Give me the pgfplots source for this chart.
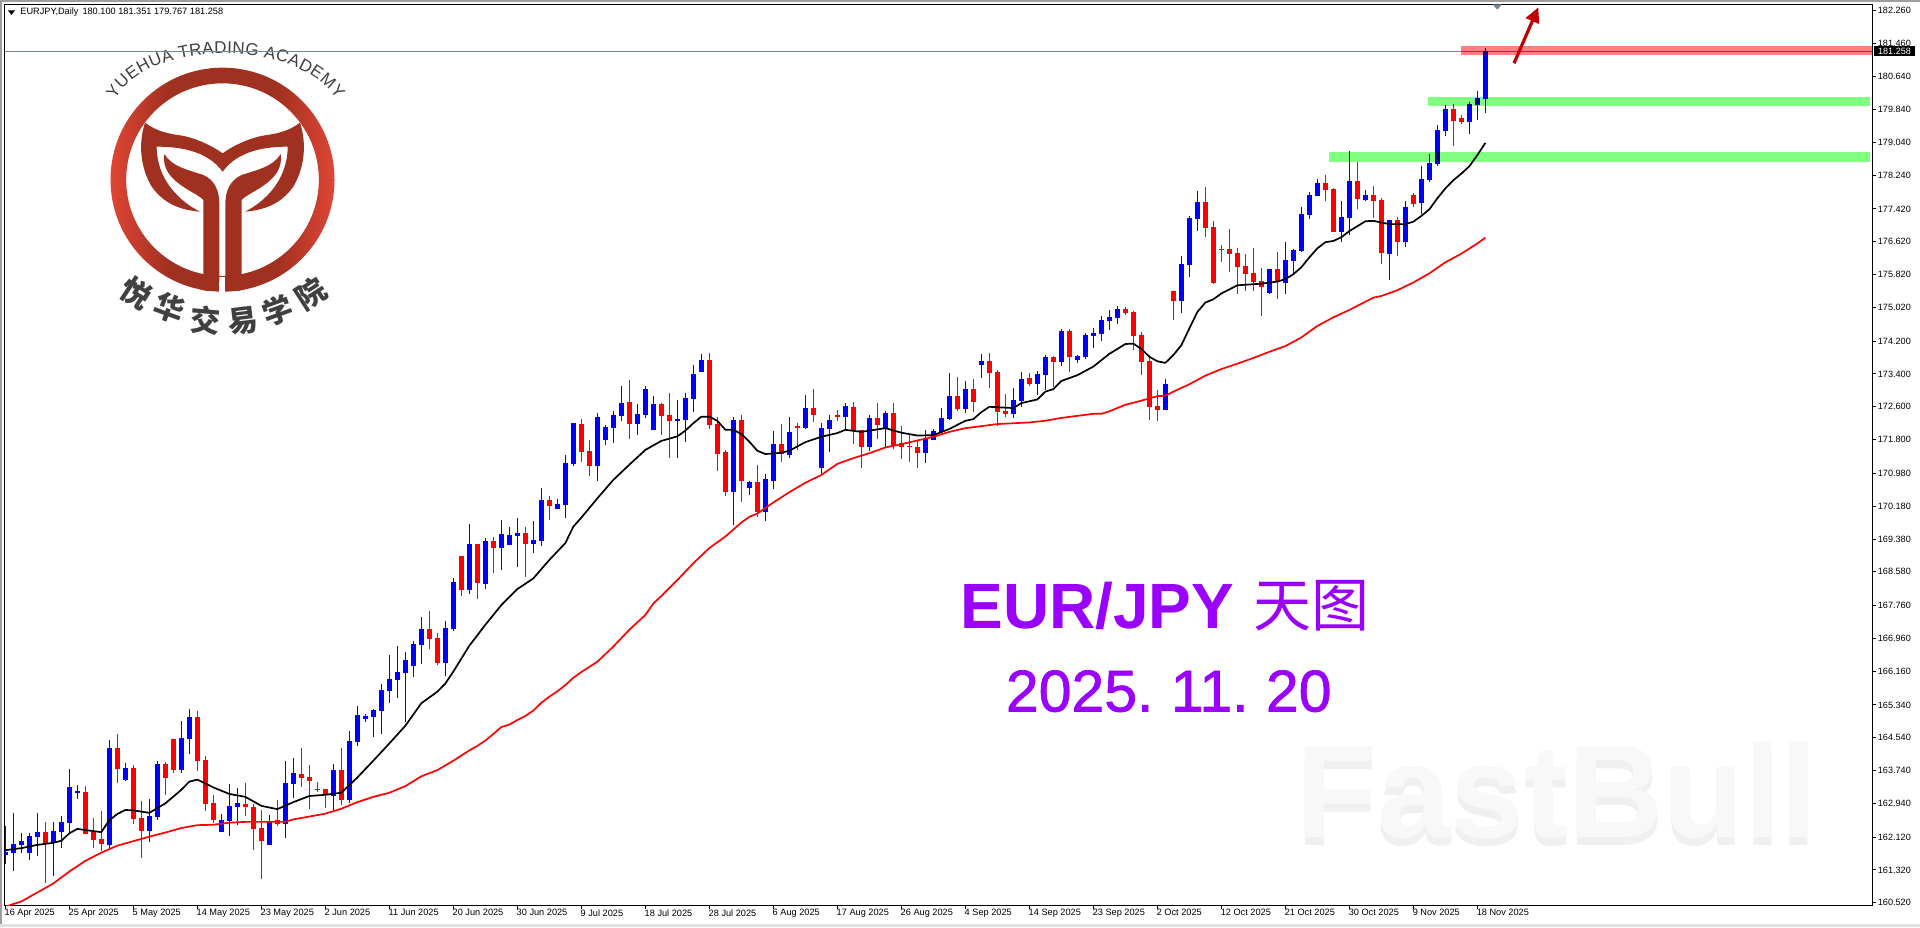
\documentclass[border=0pt]{standalone}
\usepackage{fontspec}
\usepackage{pgfplots}
\usepackage{pgfplotstable}
\pgfplotsset{compat=1.18}
\usetikzlibrary{arrows.meta,decorations.text}
\setmainfont{Liberation Sans}
\newfontfamily\cjk{Noto Sans CJK SC}
\newfontfamily\semib{Liberation Sans}[FakeBold=1.2]
\definecolor{barblue}{HTML}{0000FF}
\definecolor{barred}{HTML}{FF0000}
\definecolor{slate}{HTML}{778899}
\definecolor{titlep}{HTML}{9900FF}
\definecolor{logod}{HTML}{A03020}
\definecolor{logoe}{HTML}{E04535}
\definecolor{logot}{HTML}{404040}
\definecolor{wmD}{HTML}{F0F0F0}
\definecolor{wmE}{HTML}{F8F8F8}
\definecolor{zoneg}{HTML}{80FF80}
\definecolor{zoner}{HTML}{FF8080}
\pgfdeclarehorizontalshading{logoshade}{100bp}{color(0bp)=(logoe); color(25bp)=(logoe); color(38bp)=(logod); color(62bp)=(logod); color(75bp)=(logoe); color(100bp)=(logoe)}
\pgfplotstableread{
i o h l c
0 161.68 162.39 161.46 161.76
1 161.74 162.71 161.30 161.95
2 161.93 162.23 161.74 162.02
3 161.74 162.23 161.56 162.15
4 162.12 162.71 161.66 162.24
6 161.98 162.49 161.17 162.27
7 162.24 162.63 161.85 162.49
8 162.47 163.78 162.20 163.34
9 163.19 163.39 163.05 163.24
13 161.93 164.48 161.83 164.29
15 163.51 163.92 163.49 163.80
18 162.27 163.05 162.00 162.63
19 162.61 163.97 162.54 163.90
22 163.75 164.95 163.68 164.53
23 164.51 165.24 164.14 165.04
27 162.24 162.68 162.24 162.53
28 162.50 163.41 162.15 162.88
29 162.85 163.31 162.41 162.95
33 161.93 162.66 161.93 162.49
35 162.44 163.97 162.10 163.44
36 163.41 164.05 163.07 163.68
41 163.12 163.90 162.78 163.75
43 163.02 164.70 162.95 164.46
44 164.44 165.31 164.34 165.09
45 165.00 165.12 164.92 165.07
46 165.04 165.24 164.56 165.21
47 165.19 165.85 164.63 165.70
48 165.68 166.55 165.39 165.97
49 165.95 166.77 165.51 166.14
50 166.12 166.63 164.92 166.43
51 166.29 166.90 166.02 166.82
52 166.80 167.48 166.34 167.19
55 166.36 167.39 166.05 167.21
56 167.19 168.43 167.14 168.34
58 168.14 169.75 168.04 169.26
60 168.29 169.41 168.16 169.33
62 169.16 169.85 168.63 169.50
63 169.24 169.67 169.24 169.48
64 169.46 169.89 168.70 169.53
66 169.26 169.82 169.04 169.36
67 169.33 170.62 169.21 170.33
69 170.11 170.36 170.11 170.24
70 170.21 171.43 169.89 171.23
71 171.21 172.21 171.16 172.21
74 171.16 172.45 170.80 172.35
75 171.79 172.16 171.67 172.11
76 172.09 172.50 171.72 172.40
77 172.38 173.11 172.26 172.70
79 172.18 172.67 171.92 172.43
80 172.40 173.11 172.33 173.04
81 172.04 172.87 172.04 172.67
84 172.26 172.77 171.36 172.31
85 172.28 172.94 171.75 172.82
86 172.79 173.62 172.48 173.40
87 173.45 173.89 173.45 173.74
91 170.53 172.35 169.72 172.28
93 170.62 170.79 170.45 170.77
95 170.04 170.97 169.82 170.84
96 170.79 172.01 170.60 171.70
98 171.43 172.35 171.35 171.99
100 172.08 172.89 172.06 172.57
102 171.11 172.21 170.96 172.08
103 172.06 172.40 171.50 172.28
105 172.36 172.69 172.04 172.62
108 171.62 172.40 171.52 172.33
110 172.08 172.50 171.60 172.45
115 171.48 172.04 171.23 171.84
116 171.79 172.06 171.79 172.01
117 171.99 172.57 171.94 172.33
118 172.30 173.42 172.28 172.86
120 172.55 173.23 172.45 173.04
122 173.62 173.89 173.30 173.72
126 172.43 173.06 172.33 172.77
127 172.74 173.45 172.60 173.28
129 173.16 173.47 172.89 173.40
130 173.38 173.86 173.01 173.81
132 173.69 174.50 173.60 174.45
134 173.74 173.86 173.67 173.84
135 173.81 174.40 173.77 174.35
136 174.33 174.52 174.03 174.40
137 174.37 174.81 174.20 174.72
138 174.69 174.96 174.47 174.79
139 174.76 175.06 174.62 174.98
145 172.52 173.28 172.52 173.16
147 175.17 176.27 174.88 176.08
148 176.05 177.25 175.76 177.20
149 177.17 177.85 176.88 177.59
158 175.37 175.95 175.35 175.95
160 175.61 176.61 175.35 176.17
161 176.15 176.44 175.81 176.42
162 176.39 177.46 176.37 177.29
163 177.27 177.83 177.17 177.76
164 177.73 178.15 177.73 178.05
167 176.86 177.61 176.61 177.22
168 177.20 178.83 176.78 178.10
170 177.63 177.88 177.61 177.76
173 176.32 177.15 175.69 177.15
175 176.62 177.61 176.49 177.47
177 177.56 178.47 177.30 178.15
178 178.13 178.76 178.08 178.54
179 178.52 179.46 178.47 179.34
180 179.32 179.95 179.20 179.85
183 179.54 180.03 179.25 179.98
184 179.95 180.29 179.59 180.12
185 180.100 181.351 179.767 181.258
}\upbars
\pgfplotstableread{
i o h l c
5 162.24 162.49 161.01 161.98
10 163.22 163.36 162.20 162.20
11 162.24 162.59 161.86 162.05
12 162.07 162.75 161.77 161.95
14 164.29 164.63 163.44 163.78
16 163.80 163.87 162.44 162.56
17 162.58 163.00 161.61 162.27
20 163.90 163.95 163.14 163.56
21 164.51 164.51 163.68 163.75
24 165.04 165.19 163.73 163.97
25 163.99 164.09 162.75 162.93
26 162.95 163.14 162.46 162.53
30 162.93 163.44 162.63 162.85
31 162.85 162.93 161.80 162.32
32 162.34 162.78 161.10 162.02
34 162.53 163.02 162.39 162.44
37 163.66 164.29 163.34 163.56
38 163.58 163.87 162.80 163.49
39 163.29 163.46 163.22 163.26
40 163.29 163.29 162.83 163.17
42 163.75 164.29 162.90 163.02
53 167.19 167.63 166.70 166.95
54 166.97 167.09 166.31 166.36
57 168.97 168.97 167.99 168.14
59 169.26 169.26 167.92 168.31
61 169.33 169.43 168.55 169.16
65 169.53 169.67 168.46 169.26
68 170.33 170.43 169.85 170.19
72 172.18 172.31 171.26 171.50
73 171.53 171.79 170.92 171.16
78 172.72 173.26 171.82 172.18
82 172.67 172.70 171.92 172.38
83 172.40 172.94 171.36 172.26
88 173.74 173.91 172.06 172.16
89 172.18 172.35 171.04 171.45
90 171.50 171.55 170.43 170.53
92 172.28 172.40 170.28 170.80
94 170.77 171.18 169.92 170.04
97 171.70 172.18 171.26 171.45
99 172.13 172.20 171.55 172.08
101 172.57 173.04 172.23 172.40
104 172.39 172.52 172.26 172.36
106 172.60 172.72 171.70 172.04
107 172.04 172.04 171.11 171.62
109 172.33 172.69 171.82 172.16
111 172.45 172.69 171.57 171.65
112 171.72 172.13 171.33 171.62
113 171.65 171.94 171.26 171.61
114 171.62 171.77 171.11 171.48
119 172.86 173.33 172.50 172.55
121 173.04 173.28 172.47 172.72
123 173.72 173.91 173.06 173.42
124 173.45 173.50 172.13 172.47
125 172.50 172.91 172.35 172.43
128 173.30 173.42 173.11 173.16
131 173.81 173.84 173.08 173.69
133 174.45 174.50 173.45 173.81
140 174.98 175.03 174.84 174.89
141 174.91 174.93 173.98 174.33
142 174.35 174.42 173.38 173.69
143 173.72 173.86 172.28 172.60
144 172.62 173.01 172.26 172.52
146 175.42 175.42 174.71 175.17
150 177.59 177.95 176.73 176.95
151 176.98 177.12 175.59 175.61
152 176.44 176.54 176.12 176.42
153 176.44 176.93 175.88 176.32
154 176.34 176.47 175.35 176.00
155 176.03 176.32 175.42 175.83
156 175.86 176.47 175.42 175.64
157 175.66 175.98 174.81 175.52
159 175.95 176.37 175.22 175.66
165 178.05 178.24 177.61 177.88
166 177.90 177.93 176.86 176.86
169 178.10 178.56 177.42 177.66
171 177.76 177.98 177.20 177.61
172 177.63 177.68 176.08 176.34
174 177.15 177.22 176.27 176.61
176 177.76 177.81 177.47 177.54
181 179.85 179.98 178.95 179.56
182 179.64 179.71 179.49 179.54
}\downbars
\pgfplotstableread{
i v
0 161.80
2 161.85
4 161.93
6 161.98
7 162.03
8 162.21
9 162.32
10 162.29
12 162.24
13 162.53
14 162.68
15 162.78
16 162.77
18 162.71
20 162.94
22 163.27
23 163.47
24 163.52
26 163.33
28 163.17
30 163.10
32 162.88
34 162.80
36 162.97
38 163.12
40 163.15
42 163.20
44 163.57
46 163.98
48 164.40
50 164.83
52 165.38
54 165.66
55 165.86
56 166.15
58 166.78
60 167.29
62 167.77
64 168.16
66 168.42
68 168.87
70 169.28
71 169.68
72 169.90
74 170.37
76 170.82
78 171.19
80 171.55
82 171.77
84 171.88
85 172.02
86 172.20
87 172.36
88 172.36
89 172.26
90 172.04
91 172.04
92 171.94
93 171.75
94 171.53
95 171.45
97 171.48
98 171.53
100 171.74
102 171.87
104 171.96
105 172.04
107 171.99
110 172.08
112 171.97
114 171.90
116 171.91
118 172.06
120 172.26
121 172.30
122 172.47
123 172.60
126 172.57
127 172.69
129 172.78
130 172.97
131 173.03
132 173.23
134 173.37
136 173.58
138 173.89
140 174.13
141 174.14
142 174.01
143 173.82
144 173.71
145 173.67
146 173.86
147 174.10
148 174.51
149 174.91
150 175.14
151 175.22
152 175.36
154 175.56
157 175.60
159 175.65
160 175.71
161 175.83
162 176.00
163 176.24
164 176.46
165 176.61
166 176.64
167 176.73
168 176.88
170 177.12
171 177.13
173 177.05
175 177.05
176 177.11
177 177.25
178 177.41
179 177.68
180 177.92
181 178.12
182 178.28
183 178.46
184 178.73
185 179.03
}\maBlack
\pgfplotstableread{
i v
0 160.42
1 160.49
2 160.55
4 160.77
6 160.99
8 161.28
10 161.54
12 161.74
14 161.91
16 162.02
18 162.13
20 162.23
22 162.34
24 162.41
26 162.42
28 162.47
30 162.49
34 162.49
35 162.49
36 162.55
38 162.62
40 162.69
42 162.81
44 162.97
46 163.10
48 163.20
50 163.36
52 163.60
54 163.75
56 163.98
58 164.23
59 164.34
60 164.47
61 164.63
62 164.80
63 164.86
64 164.97
65 165.07
66 165.20
67 165.39
68 165.54
69 165.67
70 165.82
71 166.00
72 166.14
74 166.39
76 166.76
78 167.17
80 167.53
81 167.81
82 167.99
84 168.38
86 168.79
88 169.16
90 169.44
92 169.78
93 169.92
94 170.00
96 170.27
98 170.52
100 170.75
102 170.94
104 171.21
106 171.35
108 171.47
110 171.61
112 171.69
114 171.78
116 171.87
118 171.99
120 172.08
122 172.13
124 172.18
126 172.20
128 172.22
130 172.26
132 172.33
134 172.38
136 172.43
137 172.43
138 172.49
140 172.65
142 172.75
144 172.86
145 172.87
146 172.97
148 173.15
150 173.36
152 173.52
154 173.65
156 173.79
158 173.94
160 174.08
162 174.29
164 174.57
166 174.78
168 174.96
170 175.16
171 175.26
172 175.30
174 175.44
176 175.63
178 175.85
180 176.12
182 176.33
184 176.58
185 176.72
}\maRed
\begin{document}
\begin{tikzpicture}
\useasboundingbox (-2.25pt,-11pt) rectangle (957.75pt,452.5pt);
\fill[white] (-2.25pt,-11pt) rectangle (957.75pt,452.5pt);
% scope in pixels of the picture
\begin{scope}[shift={(-2.25pt,452.5pt)},x=0.5pt,y=-0.5pt]
\fill[black!38] (0,0) rectangle (1920,2);
\fill[black!38] (0,0) rectangle (2,927);
\fill[black!12] (0,924) rectangle (1920,927);
% watermark
\node[anchor=base,inner sep=0pt,text=wmD,font=\bfseries\fontsize{66}{70}\selectfont] at (1557,{845}) {FastBull};
\node[anchor=base,inner sep=0pt,text=wmE,font=\bfseries\fontsize{66}{70}\selectfont] at (1557,{837}) {FastBull};
\end{scope}
% logo in coordinates of a 3x crop
\begin{scope}[shift={(-2.25pt,452.5pt)},x=0.16667pt,y=-0.16667pt]
\shade[even odd rule,shading=logoshade] (667.5,539) circle (336) (667.5,539) circle (289);
\fill[white] (658,830) rectangle (676,885);
\fill[logod] (435,368) .. controls (470,395) and (510,402) .. (540,406)
  .. controls (590,414) and (640,440) .. (668,460)
  .. controls (695,440) and (745,414) .. (795,406)
  .. controls (825,402) and (865,395) .. (900,368)
  .. controls (920,430) and (915,500) .. (880,560)
  .. controls (840,615) and (790,630) .. (735,635)
  .. controls (795,605) and (863,540) .. (863,440)
  .. controls (800,440) and (715,450) .. (668,515)
  .. controls (620,450) and (535,440) .. (470,440)
  .. controls (470,540) and (540,605) .. (600,635)
  .. controls (545,630) and (495,615) .. (455,560)
  .. controls (420,500) and (415,430) .. (435,368) -- cycle;
\fill[logod] (493,462) .. controls (515,500) and (565,510) .. (610,525)
  .. controls (645,540) and (658,575) .. (658,610) -- (658,845)
  .. controls (652,862) and (640,873) .. (622,873)
  .. controls (615,872) and (600,868) .. (585,862) -- (610,822) -- (610,600)
  .. controls (590,575) and (480,545) .. (493,462) -- cycle;
\fill[logod] (842,462) .. controls (820,500) and (770,510) .. (725,525)
  .. controls (690,540) and (676,575) .. (676,610) -- (676,845)
  .. controls (682,862) and (695,873) .. (713,873)
  .. controls (720,872) and (735,868) .. (750,862) -- (725,822) -- (725,600)
  .. controls (745,575) and (855,545) .. (842,462) -- cycle;
\path[decorate,decoration={text along path,text align={fit to path},
   text={|\fontsize{8.5}{10}\selectfont\color{logot}|YUEHUA TRADING ACADEMY}}]
   (345,298) .. controls (450,115) and (890,115) .. (1010,298);
\foreach \ch/\px/\py/\rot in {悦/408/878/-33,华/508/925/-20,交/615/962/-5,易/730/962/7,学/832/930/20,院/932/880/33}
  \node[rotate=\rot,inner sep=0pt,text=logot,font=\cjk\bfseries\fontsize{15}{16}\selectfont] at (\px,\py) {\ch};
\end{scope}
\begin{axis}[
  at={(0pt,0pt)},anchor=south west,scale only axis,
  width=933.75pt,height=450.25pt,
  xmin=-0.1,xmax=233.33,ymin=160.465,ymax=182.40,
  axis line style={black,line width=0.5pt},
  tick style={black,line width=0.5pt},
  tick align=outside,major tick length=1.75pt,
  xtick={0,8,...,184},
  xticklabels={16 Apr 2025,25 Apr 2025,5 May 2025,14 May 2025,23 May 2025,2 Jun 2025,11 Jun 2025,20 Jun 2025,30 Jun 2025,9 Jul 2025,18 Jul 2025,28 Jul 2025,6 Aug 2025,17 Aug 2025,26 Aug 2025,4 Sep 2025,14 Sep 2025,23 Sep 2025,2 Oct 2025,12 Oct 2025,21 Oct 2025,30 Oct 2025,9 Nov 2025,18 Nov 2025},
  xtick pos=bottom,ytick pos=right,yticklabel pos=right,
  ytick={182.26,181.46,180.64,179.84,179.04,178.24,177.42,176.62,175.82,175.02,174.2,173.4,172.6,171.8,170.98,170.18,169.38,168.58,167.76,166.96,166.16,165.34,164.54,163.74,162.94,162.12,161.32,160.52},
  /pgf/number format/assume math mode=true,
  /pgf/number format/.cd,fixed,fixed zerofill,precision=3,1000 sep={},/pgfplots/.cd,
  xticklabel style={font=\fontsize{4.6}{5}\selectfont,anchor=north west,inner sep=0pt,xshift=-0.5pt,yshift=-0.3pt},
  yticklabel style={font=\fontsize{4.55}{5}\selectfont,anchor=west,inner sep=0pt,xshift=1pt},
  clip=true,axis on top=false,
]
\addplot[slate,line width=0.5pt,forget plot] coordinates {(-0.1,181.258)(233.33,181.258)};
\addplot[draw=none,mark=none,forget plot,error bars/.cd,y dir=minus,y explicit,error mark=none,error bar style={draw=barblue,line width=0.5pt}]
  table[x=i,y expr=\thisrow{h},y error minus expr=\thisrow{h}-\thisrow{l}] {\upbars};
\addplot[draw=none,mark=none,forget plot,error bars/.cd,y dir=minus,y explicit,error mark=none,error bar style={draw=barred,line width=0.5pt}]
  table[x=i,y expr=\thisrow{h},y error minus expr=\thisrow{h}-\thisrow{l}] {\downbars};
\addplot[draw=none,mark=none,forget plot,error bars/.cd,y dir=minus,y explicit,error mark=none,error bar style={draw=barblue,line width=2.5pt}]
  table[x=i,y expr=\thisrow{c},y error minus expr={max(\thisrow{c}-\thisrow{o},0.03)}] {\upbars};
\addplot[draw=none,mark=none,forget plot,error bars/.cd,y dir=minus,y explicit,error mark=none,error bar style={draw=barred,line width=2.5pt}]
  table[x=i,y expr=\thisrow{o},y error minus expr={max(\thisrow{o}-\thisrow{c},0.03)}] {\downbars};
\addplot[fill=zoner,draw=none,forget plot,blend mode=multiply] coordinates {(181.96,181.17)(233.33,181.17)(233.33,181.39)(181.96,181.39)} -- cycle;
\addplot[fill=zoneg,draw=none,forget plot,blend mode=multiply] coordinates {(177.84,179.93)(233.04,179.93)(233.04,180.15)(177.84,180.15)} -- cycle;
\addplot[fill=zoneg,draw=none,forget plot,blend mode=multiply] coordinates {(165.46,178.56)(233.04,178.56)(233.04,178.81)(165.46,178.81)} -- cycle;
\addplot[black,line width=0.85pt,line join=round,forget plot] table[x=i,y=v] {\maBlack};
\addplot[barred,line width=0.85pt,line join=round,forget plot] table[x=i,y=v] {\maRed};
\end{axis}
\begin{scope}[shift={(-2.25pt,452.5pt)},x=0.5pt,y=-0.5pt]
\fill[black] (1874,46.3) rectangle (1915,56.3);
\node[text=white,inner sep=0pt,font=\fontsize{4.55}{5}\selectfont] at (1894.5,51.3) {181.258};
\fill[black] (8,10.5) -- (15,10.5) -- (11.5,15) -- cycle;
\node[anchor=west,inner sep=0pt,font=\fontsize{4.6}{5}\selectfont] at (20,12.5) {EURJPY,Daily\hspace{2pt}180.100 181.351 179.767 181.258};
\fill[slate] (1492.7,4.5) -- (1501.7,4.5) -- (1497.2,9.7) -- cycle;
\draw[draw=red!75!black,line width=1.6pt,-{Triangle[width=7pt,length=7.5pt]}] (1514,63.3) -- (1538.3,7.3);
\node[anchor=base west,inner sep=0pt,text=titlep,font=\bfseries\fontsize{32}{34}\selectfont] at (960,628.6) {EUR/JPY};
\node[anchor=west,inner sep=0pt,text=titlep,font=\cjk\fontsize{29}{31}\selectfont] at (1253,606) {天图};
\node[anchor=base west,inner sep=0pt,text=titlep,font=\semib\fontsize{29.5}{32}\selectfont] at (1005.5,711.5) {2025.\hspace{8.7pt}11.\hspace{8.7pt}20};
\end{scope}
\end{tikzpicture}
\end{document}
